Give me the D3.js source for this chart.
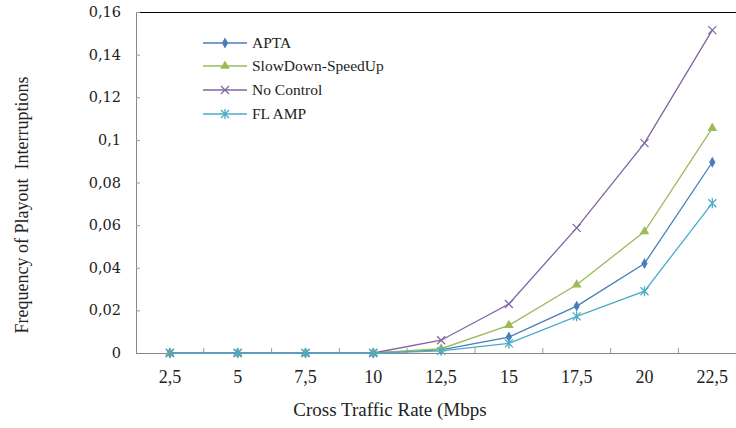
<!DOCTYPE html>
<html><head><meta charset="utf-8">
<script src="https://cdn.jsdelivr.net/npm/d3@7"></script>
<style>
body{margin:0;background:#fff}svg{display:block}
.serif{font-family:"Liberation Serif","Times New Roman",serif}
.dserif{font-family:"DejaVu Serif",serif}
</style>
</head><body>
<svg id="c" width="736" height="428"></svg>
<script>
const categories = ["2,5","5","7,5","10","12,5","15","17,5","20","22,5"];
const apta      = [0,0,0,0,0.0015,0.0075,0.022,0.042,0.0895];
const slowdown  = [0,0,0,0,0.002,0.013,0.032,0.057,0.1055];
const nocontrol = [0,0,0,0,0.006,0.023,0.0587,0.0985,0.1515];
const flamp     = [0,0,0,0,0.001,0.0045,0.0172,0.029,0.0703];
const yTicks = [0,0.02,0.04,0.06,0.08,0.1,0.12,0.14,0.16];
const yTickLabels = ["0","0,02","0,04","0,06","0,08","0,1","0,12","0,14","0,16"];
const seriesNames = ["APTA","SlowDown-SpeedUp","No Control","FL AMP"];

const series = [
  {name: seriesNames[0], values: apta, color: "#4a7ebb", marker: "diamond"},
  {name: seriesNames[1], values: slowdown, color: "#9bbb59", marker: "triangle"},
  {name: seriesNames[2], values: nocontrol, color: "#8064a2", marker: "x"},
  {name: seriesNames[3], values: flamp, color: "#4bacc6", marker: "star"}
];

const svg = d3.select("#c");
const L = 136, T = 12, B = 353;
const x = d3.scaleBand().domain(categories).range([L, L + 9*67.8]);
const y = d3.scaleLinear().domain([0,0.16]).range([B, T]);

svg.append("line").attr("x1",L).attr("x2",736).attr("y1",T+0.5).attr("y2",T+0.5)
  .attr("stroke","#000").attr("stroke-width",1.2);

const yAxis = d3.axisRight(y).tickValues(yTicks).tickSize(4).tickFormat("");
const gy = svg.append("g").attr("transform",`translate(${L},0)`).call(yAxis);
gy.select(".domain").attr("stroke","#888");
gy.selectAll(".tick line").attr("stroke","#999");
svg.append("g").selectAll("text").data(yTicks).join("text")
  .attr("class","dserif")
  .attr("x",121).attr("y",d=>y(d)).attr("dy","0.35em").attr("text-anchor","end")
  .attr("font-size",14.5).attr("fill","#222")
  .text((d,i)=>yTickLabels[i]);

const gx = svg.append("g").attr("transform",`translate(0,${B})`)
  .call(d3.axisBottom(x).tickSize(0).tickPadding(17));
gx.select(".domain").remove();
gx.attr("font-family",null).attr("font-size",null);
gx.selectAll("text").attr("class","serif").style("font-size","18px").attr("fill","#222");
svg.append("line").attr("x1",L).attr("x2",736).attr("y1",B+0.5).attr("y2",B+0.5).attr("stroke","#888");
svg.append("g").selectAll("line").data(categories.slice(1)).join("line")
  .attr("x1",d=>x(d)).attr("x2",d=>x(d)).attr("y1",B).attr("y2",B-5).attr("stroke","#999");

svg.append("text").attr("class","serif").attr("transform","translate(28,205) rotate(-90)").attr("text-anchor","middle")
  .attr("font-size",18).attr("fill","#222").style("white-space","pre")
  .text("Frequency of Playout  Interruptions");
svg.append("text").attr("class","serif").attr("x",390).attr("y",416).attr("text-anchor","middle")
  .attr("font-size",19).attr("fill","#222")
  .text("Cross Traffic Rate (Mbps");

const cx = d => x(d) + x.bandwidth()/2;
const line = d3.line().x((d,i)=>cx(categories[i])).y(d=>y(d));

function drawMarker(g, type, color){
  if(type==="diamond") g.append("path").attr("d",d3.symbol(d3.symbolDiamond,34)()).attr("fill",color);
  else if(type==="triangle") g.append("path").attr("d",d3.symbol(d3.symbolTriangle,40)()).attr("fill",color);
  else if(type==="x") g.append("path").attr("d","M-4,-4L4,4M-4,4L4,-4").attr("stroke",color).attr("stroke-width",1.2).attr("fill","none");
  else g.append("path").attr("d","M-4,-4L4,4M-4,4L4,-4M0,-5L0,5").attr("stroke",color).attr("stroke-width",1.3).attr("fill","none");
}

series.forEach(s=>{
  svg.append("path").attr("d",line(s.values)).attr("fill","none").attr("stroke",s.color).attr("stroke-width",1.3);
  s.values.forEach((v,i)=>{
    const g = svg.append("g").attr("transform",`translate(${cx(categories[i])},${y(v)})`);
    drawMarker(g, s.marker, s.color);
  });
});

const legY = [43,66,90,114];
series.forEach((s,i)=>{
  svg.append("line").attr("x1",203).attr("x2",247).attr("y1",legY[i]).attr("y2",legY[i]).attr("stroke",s.color).attr("stroke-width",1.3);
  const g = svg.append("g").attr("transform",`translate(225,${legY[i]})`);
  drawMarker(g, s.marker, s.color);
  svg.append("text").attr("class","serif").attr("x",252).attr("y",legY[i]).attr("dy","0.35em")
    .attr("font-size",15.5).attr("fill","#222").text(s.name);
});
</script>
</body></html>
